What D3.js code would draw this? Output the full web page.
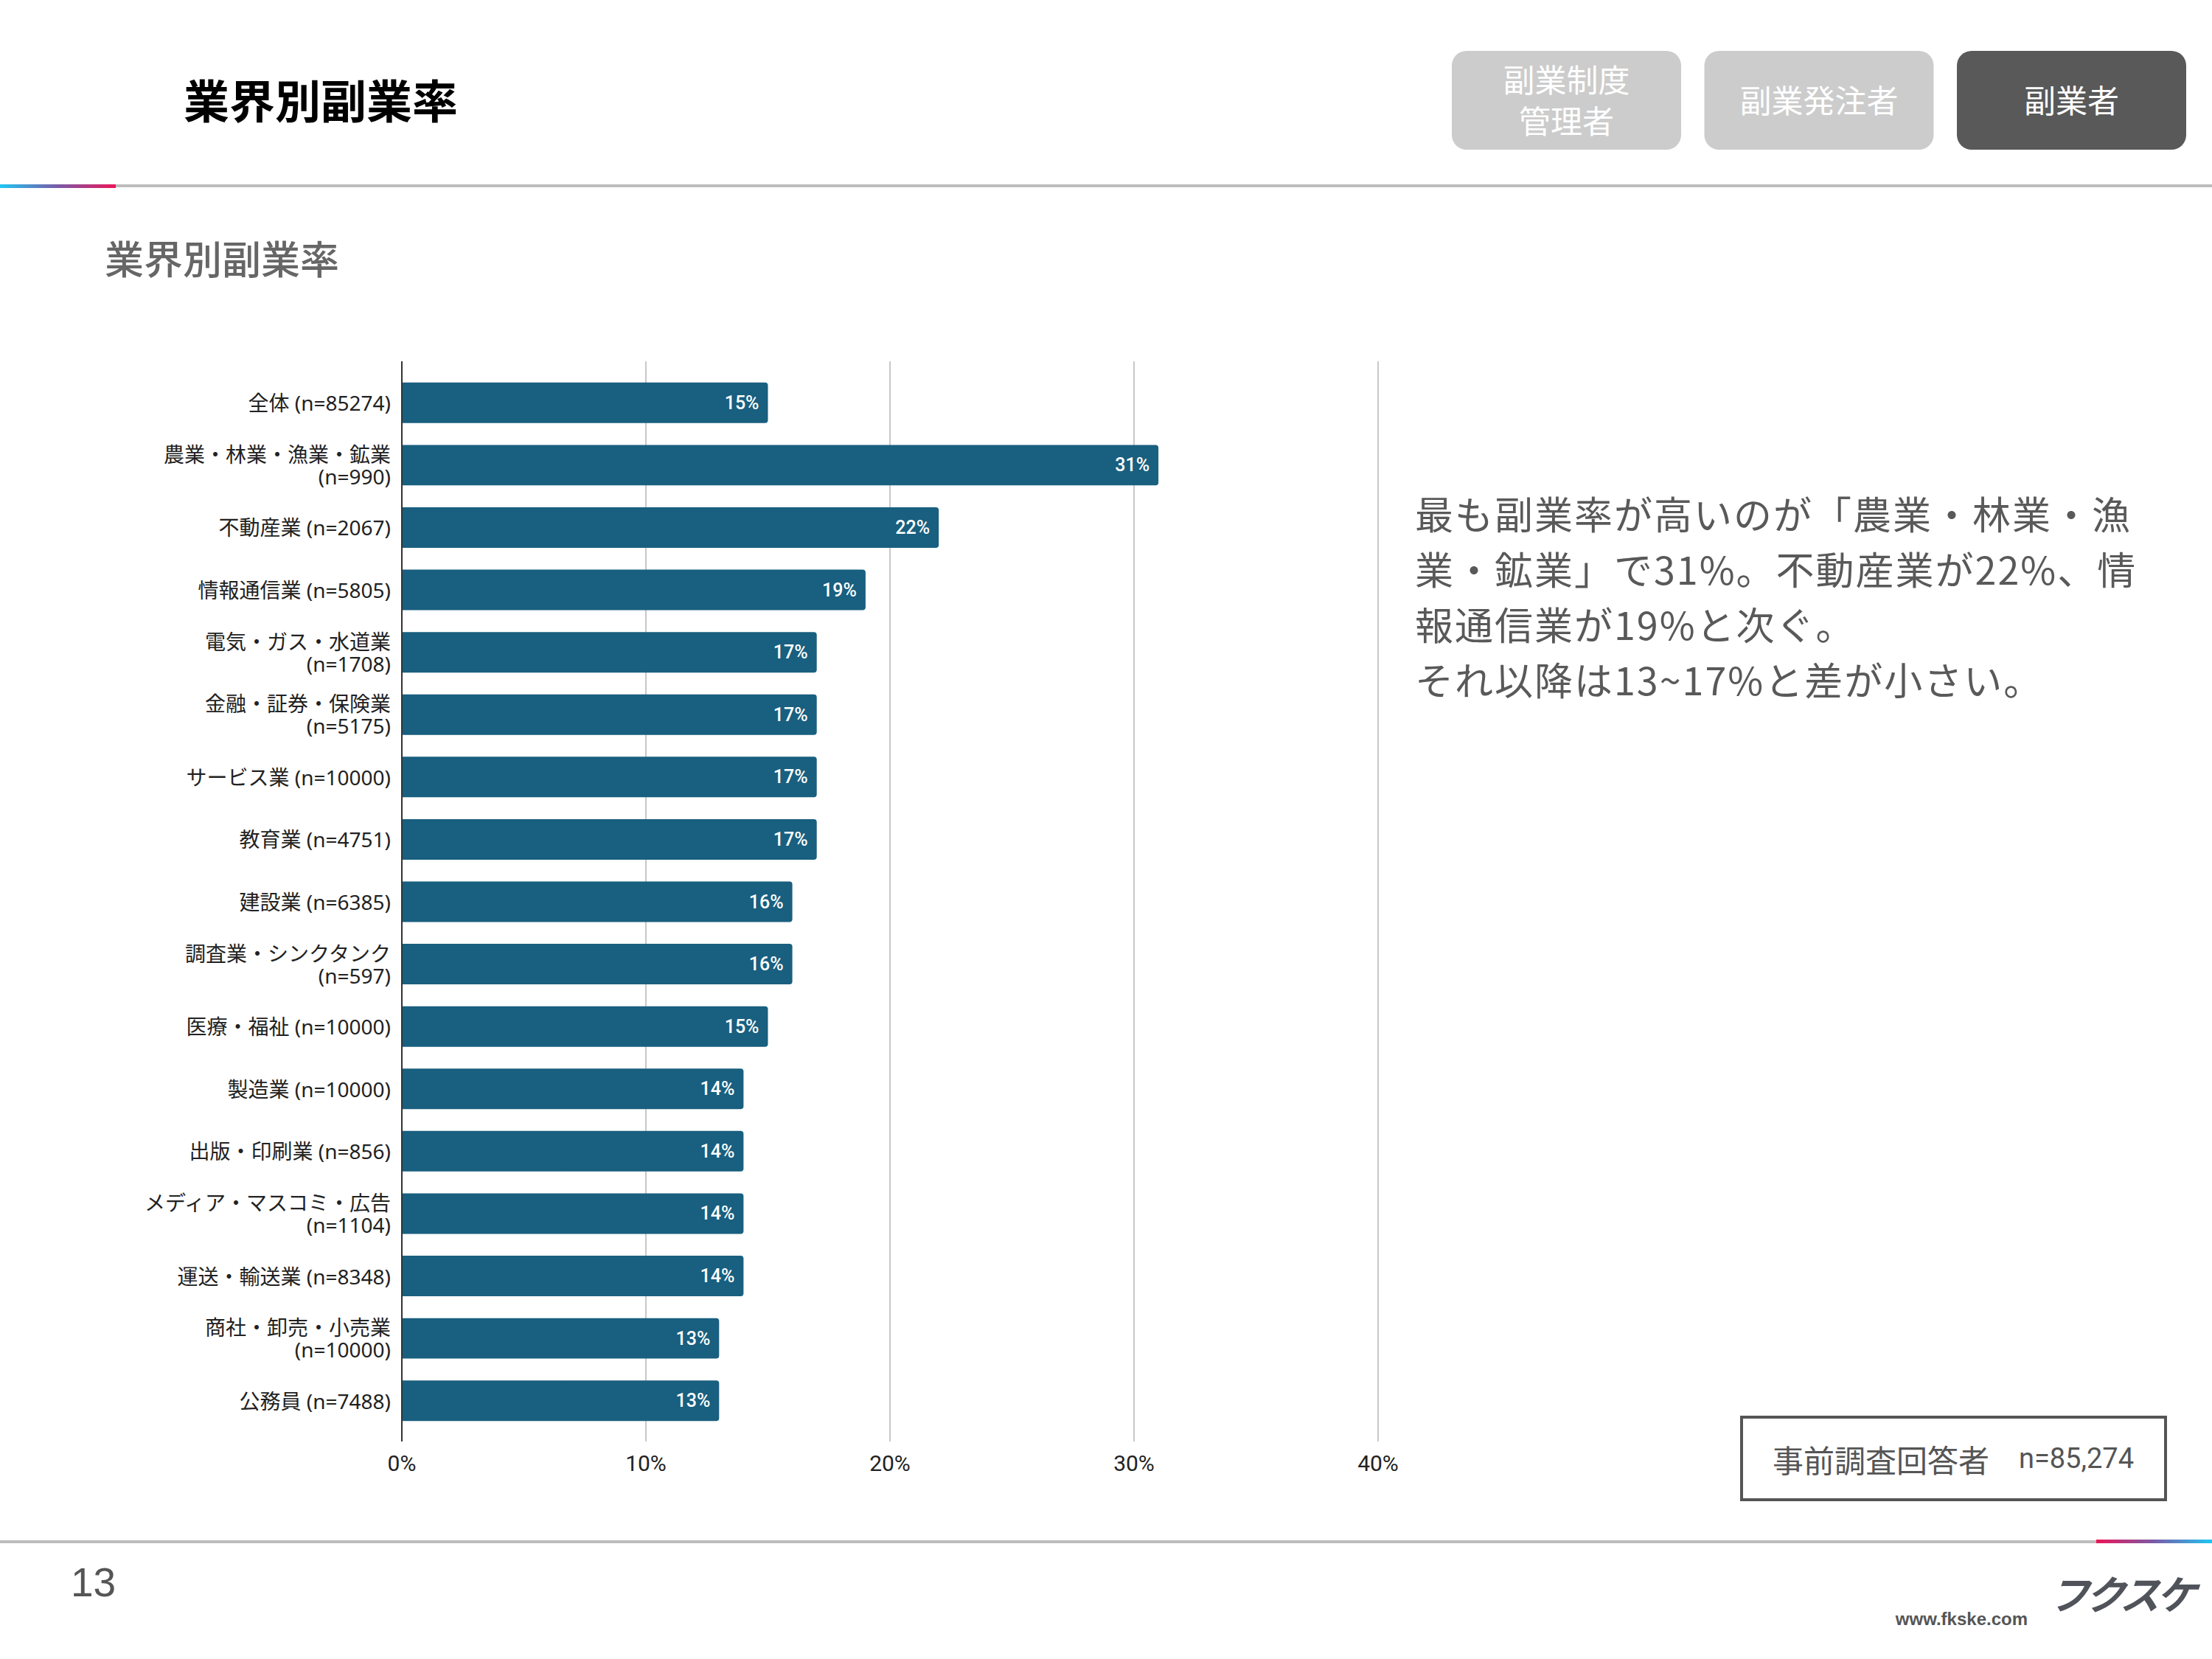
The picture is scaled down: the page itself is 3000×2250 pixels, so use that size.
<!DOCTYPE html>
<html>
<head>
<meta charset="utf-8">
<script src="https://cdn.jsdelivr.net/npm/d3@7"></script>
<style>
  body { margin: 0; background: #fff; }
  svg { display: block; font-family: "Noto Sans CJK JP", "Noto Sans", sans-serif; }
</style>
</head>
<body>
<svg></svg>
<script>
//Chart Data
const industries = ["全体", "農業・林業・漁業・鉱業", "不動産業", "情報通信業", "電気・ガス・水道業", "金融・証券・保険業",
                    "サービス業", "教育業", "建設業", "調査業・シンクタンク", "医療・福祉", "製造業", "出版・印刷業",
                    "メディア・マスコミ・広告", "運送・輸送業", "商社・卸売・小売業", "公務員"];
const sampleSizes = [85274, 990, 2067, 5805, 1708, 5175, 10000, 4751, 6385, 597, 10000, 10000, 856, 1104, 8348, 10000, 7488];
const rates = [15, 31, 22, 19, 17, 17, 17, 17, 16, 16, 15, 14, 14, 14, 14, 13, 13];
const xTicks = [0, 10, 20, 30, 40];

const tabLabels = [["副業制度", "管理者"], ["副業発注者"], ["副業者"]];
const commentLines = ["最も副業率が高いのが「農業・林業・漁",
                      "業・鉱業」で31%。不動産業が22%、情",
                      "報通信業が19%と次ぐ。",
                      "それ以降は13~17%と差が小さい。"];

const rows = industries.map((name, i) => ({ name: name, n: sampleSizes[i], value: rates[i] }));

const w = 3000;
const h = 2250;

const svg = d3.select("svg")
              .attr("width", w)
              .attr("height", h);

//Gradients for the header / footer accent lines
const defs = svg.append("defs");
const gradTop = defs.append("linearGradient").attr("id", "gradTop");
gradTop.append("stop").attr("offset", "0%").attr("stop-color", "#1fc6f2");
gradTop.append("stop").attr("offset", "50%").attr("stop-color", "#7a5aa8");
gradTop.append("stop").attr("offset", "100%").attr("stop-color", "#ec1658");
const gradBottom = defs.append("linearGradient").attr("id", "gradBottom");
gradBottom.append("stop").attr("offset", "0%").attr("stop-color", "#ec1658");
gradBottom.append("stop").attr("offset", "50%").attr("stop-color", "#7a5aa8");
gradBottom.append("stop").attr("offset", "100%").attr("stop-color", "#1fc6f2");

//Header
svg.append("text")
   .attr("x", 249)
   .attr("y", 134)
   .attr("dominant-baseline", "central")
   .attr("font-size", 62)
   .attr("font-weight", 700)
   .attr("fill", "#000")
   .text("業界別副業率");

const tabs = svg.append("g")
                .selectAll("g")
                .data(tabLabels)
                .enter()
                .append("g")
                .attr("transform", (d, i) => `translate(${1969 + i * 342.5}, 69)`);

tabs.append("rect")
    .attr("width", 311)
    .attr("height", 134)
    .attr("rx", 20)
    .attr("fill", (d, i) => i === 2 ? "#595959" : "#cccccc");

tabs.selectAll("text")
    .data((d) => d.map((t, j) => ({ t: t, j: j, count: d.length })))
    .enter()
    .append("text")
    .attr("x", 155.5)
    .attr("y", (d) => 65 + (d.j - (d.count - 1) / 2) * 56)
    .attr("text-anchor", "middle")
    .attr("dominant-baseline", "central")
    .attr("font-size", 43)
    .attr("fill", "#fff")
    .text((d) => d.t);

svg.append("rect").attr("x", 157).attr("y", 250).attr("width", w - 157).attr("height", 4).attr("fill", "#bdbdbd");
svg.append("rect").attr("x", 0).attr("y", 250).attr("width", 157).attr("height", 5).attr("fill", "url(#gradTop)");

svg.append("text")
   .attr("x", 142)
   .attr("y", 349)
   .attr("dominant-baseline", "central")
   .attr("font-size", 53)
   .attr("font-weight", 500)
   .attr("fill", "#666")
   .text("業界別副業率");

//Scales
const xScale = d3.scaleLinear()
                 .domain([0, 40])
                 .range([545, 1869]);

const yScale = d3.scaleBand()
                 .domain(industries)
                 .range([504, 1942])
                 .paddingInner(0.35)
                 .paddingOuter(0.175);

const chart = svg.append("g");

//Gridlines
chart.append("g")
     .selectAll("line")
     .data(xTicks)
     .enter()
     .append("line")
     .attr("x1", (d) => xScale(d))
     .attr("x2", (d) => xScale(d))
     .attr("y1", 490)
     .attr("y2", 1955)
     .attr("stroke", (d) => d === 0 ? "#333" : "#c8c8c8")
     .attr("stroke-width", 2);

//Tick labels
chart.append("g")
     .selectAll("text")
     .data(xTicks)
     .enter()
     .append("text")
     .attr("x", (d) => xScale(d))
     .attr("y", 1984)
     .attr("text-anchor", "middle")
     .attr("dominant-baseline", "central")
     .attr("font-family", "Roboto, 'Noto Sans', sans-serif")
     .attr("font-size", 30)
     .attr("fill", "#222")
     .text((d) => d + "%");

//Bars
chart.append("g")
     .selectAll("path")
     .data(rows)
     .enter()
     .append("path")
     .attr("fill", "#195f7f")
     .attr("d", (d) => {
        const x0 = xScale(0) + 1, x1 = xScale(d.value), y0 = yScale(d.name), bh = yScale.bandwidth(), r = 4;
        return `M${x0},${y0} H${x1 - r} Q${x1},${y0} ${x1},${y0 + r} V${y0 + bh - r} Q${x1},${y0 + bh} ${x1 - r},${y0 + bh} H${x0} Z`;
     });

//Value labels
chart.append("g")
     .selectAll("text")
     .data(rows)
     .enter()
     .append("text")
     .attr("x", (d) => xScale(d.value) - 12)
     .attr("y", (d) => yScale(d.name) + yScale.bandwidth() / 2)
     .attr("text-anchor", "end")
     .attr("dominant-baseline", "central")
     .attr("font-family", "Roboto, 'Noto Sans', sans-serif")
     .attr("font-weight", 500)
     .attr("font-size", 25)
     .attr("fill", "#fff")
     .text((d) => d.value + "%");

//Category labels (long names wrap onto two lines)
const labels = chart.append("g")
                    .selectAll("text")
                    .data(rows)
                    .enter()
                    .append("text")
                    .attr("text-anchor", "end")
                    .attr("font-family", "'Noto Sans', 'Noto Sans CJK JP', sans-serif")
                    .attr("font-size", 28)
                    .attr("fill", "#222");

labels.each(function(d) {
  const cy = yScale(d.name) + yScale.bandwidth() / 2;
  const parts = d.name.length >= 9 ? [d.name, `(n=${d.n})`] : [`${d.name} (n=${d.n})`];
  d3.select(this).selectAll("tspan")
    .data(parts)
    .enter()
    .append("tspan")
    .attr("x", 530)
    .attr("y", (p, j) => cy + (j - (parts.length - 1) / 2) * 30)
    .attr("dominant-baseline", "central")
    .text((p) => p);
});

//Comment text
svg.append("g")
   .selectAll("text")
   .data(commentLines)
   .enter()
   .append("text")
   .attr("x", 1919)
   .attr("y", (d, i) => 695 + i * 75)
   .attr("dominant-baseline", "central")
   .attr("font-size", 52)
   .attr("letter-spacing", 2)
   .attr("fill", "#595959")
   .text((d) => d);

//Respondent box
svg.append("rect")
   .attr("x", 2362)
   .attr("y", 1922)
   .attr("width", 575)
   .attr("height", 112)
   .attr("fill", "none")
   .attr("stroke", "#555")
   .attr("stroke-width", 4);

svg.append("text")
   .attr("x", 2404)
   .attr("y", 1978)
   .attr("dominant-baseline", "central")
   .attr("font-size", 42)
   .attr("fill", "#555")
   .text("事前調査回答者");

svg.append("text")
   .attr("x", 2894)
   .attr("y", 1978)
   .attr("text-anchor", "end")
   .attr("dominant-baseline", "central")
   .attr("font-family", "Roboto, 'Noto Sans', sans-serif")
   .attr("font-size", 38)
   .attr("fill", "#555")
   .text("n=85,274");

//Footer
svg.append("rect").attr("x", 0).attr("y", 2089).attr("width", 2843).attr("height", 4).attr("fill", "#bdbdbd");
svg.append("rect").attr("x", 2843).attr("y", 2088).attr("width", w - 2843).attr("height", 5).attr("fill", "url(#gradBottom)");

svg.append("text")
   .attr("x", 96)
   .attr("y", 2165)
   .attr("font-family", "'Liberation Sans', Arial, sans-serif")
   .attr("font-size", 55)
   .attr("fill", "#555")
   .text("13");

svg.append("text")
   .attr("x", 2750)
   .attr("y", 2204)
   .attr("text-anchor", "end")
   .attr("font-family", "'Liberation Sans', Arial, sans-serif")
   .attr("font-weight", 700)
   .attr("font-size", 24)
   .attr("fill", "#555")
   .text("www.fkske.com");

svg.append("text")
   .attr("transform", "translate(2778, 2183) skewX(-18)")
   .attr("font-size", 54)
   .attr("font-weight", 700)
   .attr("letter-spacing", -5)
   .attr("fill", "#50545a")
   .text("フクスケ");
</script>
</body>
</html>
